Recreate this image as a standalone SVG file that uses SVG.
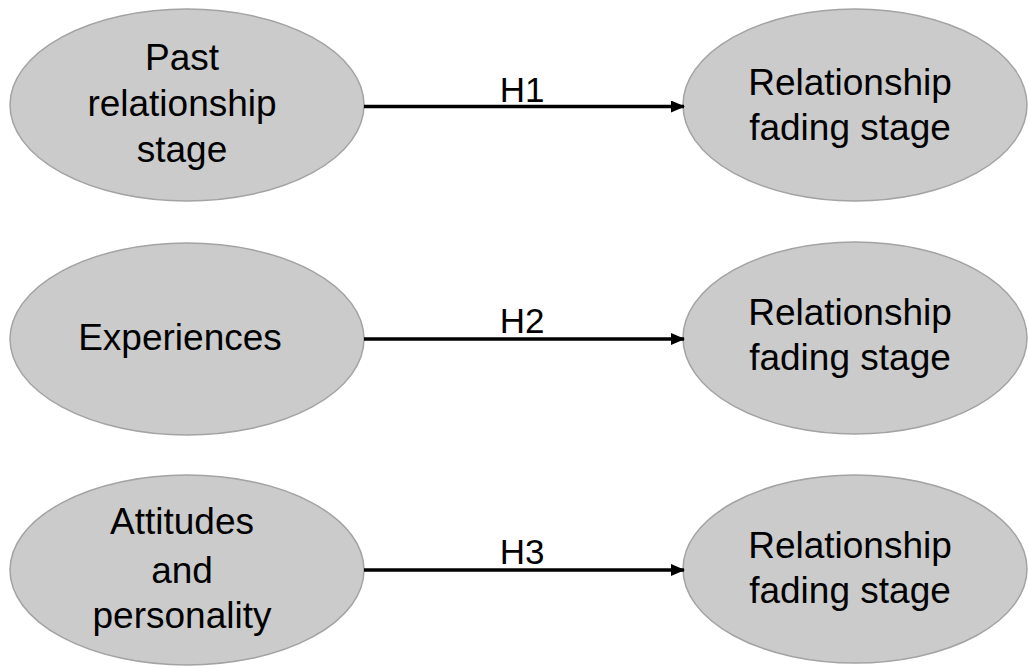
<svg xmlns="http://www.w3.org/2000/svg" width="1028" height="668" viewBox="0 0 1028 668">
<style>
.node ellipse{fill:#cbcbcb;stroke:#a3a3a3;stroke-width:1.5}
text{font-family:"Liberation Sans",Arial,sans-serif;font-size:37px;fill:#000;text-anchor:middle}
.lbl{font-size:35px}
.conn line{stroke:#000;stroke-width:3.5}
</style>
<defs>
<marker id="arr" markerWidth="14" markerHeight="12" refX="13" refY="6" orient="auto" markerUnits="userSpaceOnUse">
<path d="M0,0 L14,6 L0,12 Z" fill="#000"/>
</marker>
</defs>
<rect width="1028" height="668" fill="#fff"/>
<g id="n1" class="node"><ellipse cx="187" cy="105" rx="177" ry="96"/>
<text x="182" y="70">Past</text><text x="182" y="116">relationship</text><text x="182" y="162">stage</text></g>
<g id="n2" class="node"><ellipse cx="855" cy="105" rx="172" ry="96"/>
<text x="850" y="95">Relationship</text><text x="850" y="140">fading stage</text></g>
<g id="n3" class="node"><ellipse cx="187" cy="339" rx="177" ry="96"/>
<text x="180" y="350">Experiences</text></g>
<g id="n4" class="node"><ellipse cx="855" cy="338" rx="172" ry="96"/>
<text x="850" y="325">Relationship</text><text x="850" y="370">fading stage</text></g>
<g id="n5" class="node"><ellipse cx="187" cy="570" rx="177" ry="95"/>
<text x="182" y="534">Attitudes</text><text x="182" y="583">and</text><text x="182" y="628">personality</text></g>
<g id="n6" class="node"><ellipse cx="855" cy="569" rx="172" ry="94"/>
<text x="850" y="558">Relationship</text><text x="850" y="603">fading stage</text></g>
<g id="connectors" class="conn">
<line x1="364" y1="106.5" x2="684" y2="106.5" marker-end="url(#arr)"/>
<text class="lbl" x="522" y="102">H1</text>
<line x1="364" y1="339" x2="684" y2="339" marker-end="url(#arr)"/>
<text class="lbl" x="522" y="333">H2</text>
<line x1="364" y1="570" x2="684" y2="570" marker-end="url(#arr)"/>
<text class="lbl" x="522" y="564">H3</text>
</g>
</svg>
